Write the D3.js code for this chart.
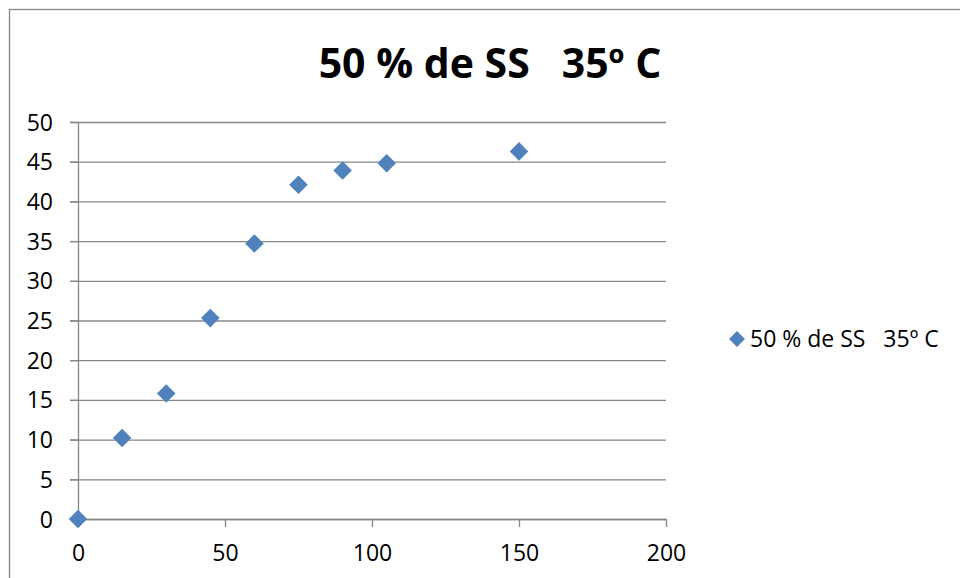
<!DOCTYPE html>
<html>
<head>
<meta charset="utf-8">
<script src="https://cdn.jsdelivr.net/npm/d3@7"></script>
<style>
	body { margin: 0; background: #fff; }
	svg { font-family: "Open Sans", sans-serif; }
	.grid line { stroke: #868686; stroke-width: 1.3; }
	.grid path { display: none; }
	.axis path, .axis line { stroke: #868686; stroke-width: 1.3; }
	.axis text { font-size: 23px; fill: #000; font-family: "Open Sans", sans-serif; }
</style>
</head>
<body>
<svg id="chart" width="960" height="578"></svg>
<script>
//values
var title = "50 % de SS   35º C";
var seriesName = "50 % de SS   35º C";
var xVals = [0, 15, 30, 45, 60, 75, 90, 105, 150];
var yVals = [0, 10.2, 15.8, 25.3, 34.7, 42.1, 43.9, 44.8, 46.3];
var xTicks = [0, 50, 100, 150, 200];
var yTicks = [0, 5, 10, 15, 20, 25, 30, 35, 40, 45, 50];

var svg = d3.select("#chart");

//chart frame
svg.append("rect")
	.attr("x", 9.5).attr("y", 9.5)
	.attr("width", 1000).attr("height", 1000)
	.attr("fill", "none")
	.attr("stroke", "#868686")
	.attr("stroke-width", 1.3);

var margin = {top: 122, left: 78, right: 294, bottom: 59};
var graph_w = 960 - margin.left - margin.right;
var graph_h = 578 - margin.top - margin.bottom;

var g = svg.append("g")
	.attr("transform", "translate(" + margin.left + "," + margin.top + ")");

var x = d3.scaleLinear().domain([0, 200]).range([0, graph_w]);
var y = d3.scaleLinear().domain([0, 50]).range([graph_h, 0]);

// horizontal gridlines, with the tick stub hanging out on the left
g.append("g")
	.attr("class", "grid")
	.call(d3.axisLeft(y).tickValues(yTicks).tickSize(-graph_w).tickFormat(""))
	.selectAll("line")
	.attr("x1", -8);

g.append("g")
	.attr("class", "y axis")
	.call(d3.axisLeft(y).tickValues(yTicks).tickSize(8).tickPadding(17).tickSizeOuter(0))
	.selectAll("text").attr("dy", "0.35em");

g.append("g")
	.attr("class", "x axis")
	.attr("transform", "translate(0," + graph_h + ")")
	.call(d3.axisBottom(x).tickValues(xTicks).tickSize(8).tickPadding(18).tickSizeOuter(0))
	.selectAll("text").attr("dy", "0.71em");

g.selectAll("path.pt")
	.data(xVals)
	.enter().append("path")
	.attr("class", "pt")
	.attr("d", d3.symbol().type(d3.symbolDiamond2).size(220))
	.attr("transform", function(d, i) {
		return "translate(" + x(d) + "," + y(yVals[i]) + ")";
	})
	.attr("fill", "#4F81BD");

svg.append("text")
	.attr("x", 490).attr("y", 78)
	.attr("text-anchor", "middle")
	.attr("font-size", "41px")
	.attr("font-weight", "bold")
	.style("white-space", "pre")
	.text(title);

// legend
var leg = svg.append("g").attr("transform", "translate(737,339)");
leg.append("path")
	.attr("d", d3.symbol().type(d3.symbolDiamond2).size(160))
	.attr("fill", "#4F81BD");
leg.append("text")
	.attr("x", 13).attr("dy", "0.35em")
	.attr("font-size", "23px")
	.style("white-space", "pre")
	.text(seriesName);
</script>
</body>
</html>
